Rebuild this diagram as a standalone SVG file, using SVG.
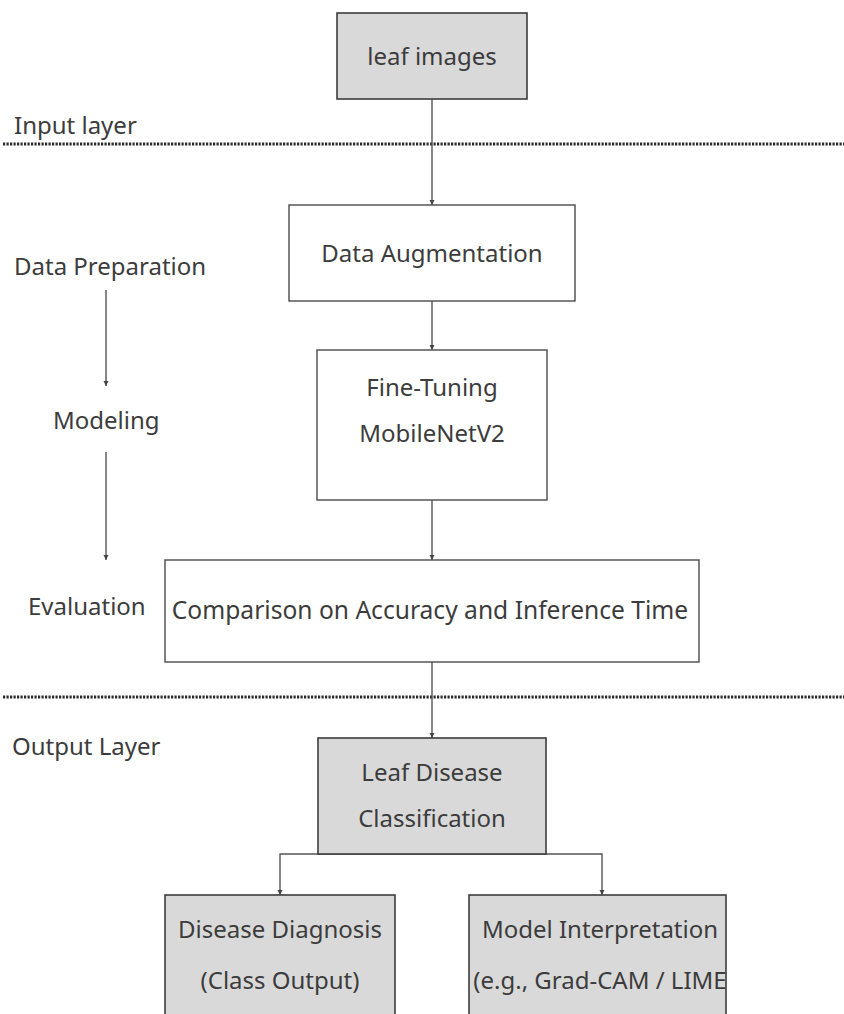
<svg xmlns="http://www.w3.org/2000/svg" width="844" height="1014" viewBox="0 0 844 1014">
<defs>
<style>
.t{font-family:"Noto Sans","Open Sans","DejaVu Sans",sans-serif;font-size:24px;fill:#3c3c3c;}
.c{text-anchor:middle;}
.g{fill:#d9d9d9;stroke:#3c3c3c;stroke-width:1.6;}
.w{fill:#ffffff;stroke:#4a4a4a;stroke-width:1.4;}
.ln{fill:none;stroke:#555;stroke-width:1.4;}
.dot{stroke:#2a2a2a;stroke-width:3;stroke-dasharray:2.2 1.3;}
</style>
<marker id="ah" markerWidth="6" markerHeight="6" refX="5" refY="3" orient="auto" markerUnits="userSpaceOnUse">
<path d="M0,0.5 L5,3 L0,5.5 z" fill="#444"/>
</marker>
</defs>
<rect width="844" height="1014" fill="#ffffff"/>

<g id="separators">
<line class="dot" x1="3" y1="144" x2="844" y2="144"/>
<line class="dot" x1="3" y1="697" x2="844" y2="697"/>
</g>

<g id="stage-labels">
<text class="t" x="14" y="134">Input layer</text>
<text class="t" x="14" y="275">Data Preparation</text>
<text class="t" x="53" y="429">Modeling</text>
<text class="t" x="28" y="615">Evaluation</text>
<text class="t" x="12" y="755">Output Layer</text>
</g>

<g id="connectors">
<line class="ln" x1="106" y1="290" x2="106" y2="386" marker-end="url(#ah)"/>
<line class="ln" x1="106" y1="452" x2="106" y2="560" marker-end="url(#ah)"/>
<line class="ln" x1="432" y1="99" x2="432" y2="205" marker-end="url(#ah)"/>
<line class="ln" x1="432" y1="301" x2="432" y2="350" marker-end="url(#ah)"/>
<line class="ln" x1="432" y1="500" x2="432" y2="560" marker-end="url(#ah)"/>
<line class="ln" x1="432" y1="662" x2="432" y2="738" marker-end="url(#ah)"/>
<path class="ln" d="M432,854 H280 V895" marker-end="url(#ah)"/>
<path class="ln" d="M432,854 H602 V895" marker-end="url(#ah)"/>
</g>

<g id="leaf-images">
<rect class="g" x="337" y="13" width="190" height="86"/>
<text class="t c" x="432" y="65">leaf images</text>
</g>

<g id="data-augmentation">
<rect class="w" x="289" y="205" width="286" height="96"/>
<text class="t c" x="432" y="262">Data Augmentation</text>
</g>

<g id="fine-tuning">
<rect class="w" x="317" y="350" width="230" height="150"/>
<text class="t c" x="432" y="396">Fine-Tuning</text>
<text class="t c" x="432" y="442">MobileNetV2</text>
</g>

<g id="comparison">
<rect class="w" x="165" y="560" width="534" height="102"/>
<text class="t c" x="430" y="619" style="font-size:24.6px">Comparison on Accuracy and Inference Time</text>
</g>

<g id="leaf-disease-classification">
<rect class="g" x="318" y="738" width="228" height="116"/>
<text class="t c" x="432" y="781">Leaf Disease</text>
<text class="t c" x="432" y="827">Classification</text>
</g>

<g id="disease-diagnosis">
<rect class="g" x="165" y="895" width="230" height="140"/>
<text class="t c" x="280" y="938">Disease Diagnosis</text>
<text class="t c" x="280" y="989">(Class Output)</text>
</g>

<g id="model-interpretation">
<rect class="g" x="469" y="895" width="257" height="140"/>
<text class="t c" x="600" y="938">Model Interpretation</text>
<text class="t c" x="600" y="989">(e.g., Grad-CAM / LIME</text>
</g>
</svg>
